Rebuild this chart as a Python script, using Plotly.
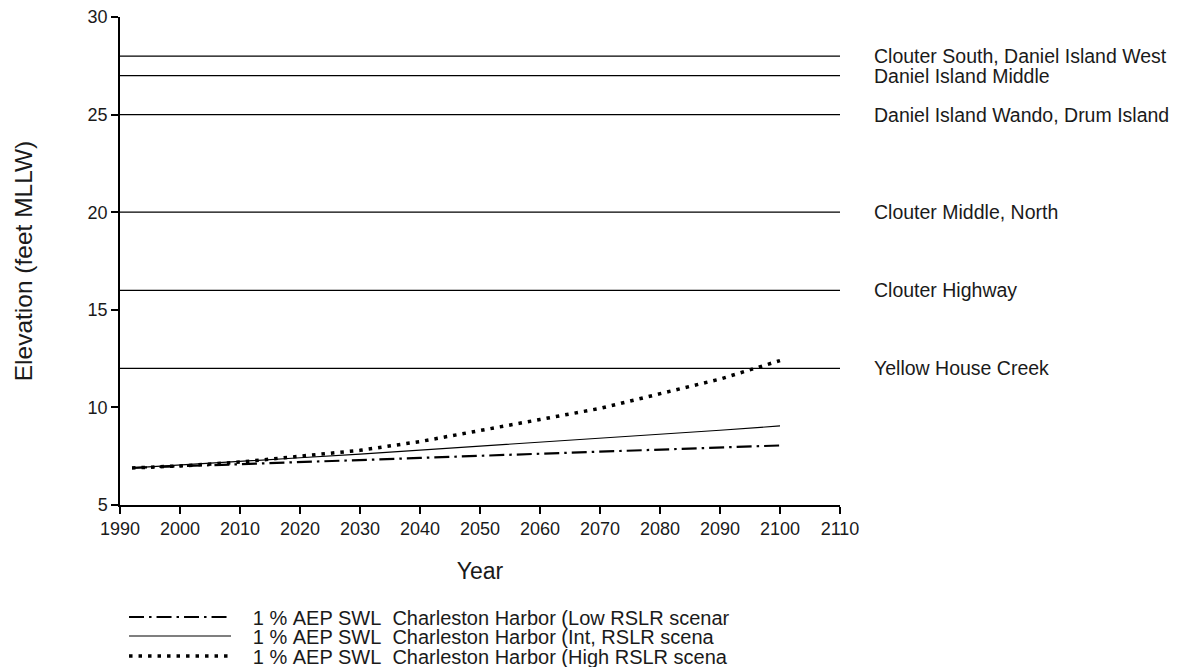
import plotly.graph_objects as go

years = [1992, 2000, 2010, 2020, 2030, 2040, 2050, 2060, 2070, 2080, 2090, 2100]
low = [6.9, 6.98, 7.09, 7.2, 7.3, 7.41, 7.52, 7.62, 7.73, 7.84, 7.94, 8.05]
intm = [6.9, 7.04, 7.23, 7.42, 7.61, 7.81, 8.01, 8.21, 8.42, 8.62, 8.83, 9.05]
high = [6.9, 7.0, 7.2, 7.5, 7.8, 8.25, 8.8, 9.38, 9.95, 10.7, 11.45, 12.4]

levels = [28, 27, 25, 20, 16, 12]
level_names = ["Clouter South, Daniel Island West", "Daniel Island Middle",
               "Daniel Island Wando, Drum Island", "Clouter Middle, North",
               "Clouter Highway", "Yellow House Creek"]

series_names = ["1 %\u00a0AEP SWL\u00a0\u00a0Charleston Harbor (Low RSLR scenar",
                "1 %\u00a0AEP SWL\u00a0\u00a0Charleston Harbor (Int, RSLR scena",
                "1 %\u00a0AEP SWL\u00a0\u00a0Charleston Harbor (High RSLR scena"]

FONT = "Liberation Sans, Arial, sans-serif"
TXT = "#1a1a1a"
PAD = "\u00a0\u00a0\u00a0"

fig = go.Figure()
fig.add_trace(go.Scatter(x=years, y=low, mode="lines", name=PAD + series_names[0], legend="legend",
                         line=dict(color="black", width=2.2, dash="15px,5px,2.5px,5px")))
fig.add_trace(go.Scatter(x=years, y=intm, mode="lines", name=PAD + series_names[1], legend="legend2",
                         line=dict(color="black", width=1.2)))
fig.add_trace(go.Scatter(x=years, y=high, mode="lines", name=PAD + series_names[2], legend="legend3",
                         line=dict(color="black", width=3.5, dash="3.5px,6px")))

for lv, nm in zip(levels, level_names):
    fig.add_shape(type="line", xref="x", yref="y", x0=1990, x1=2110, y0=lv, y1=lv,
                  line=dict(color="black", width=1.2), layer="below")
    fig.add_annotation(x=1.0444, y=lv, xref="paper", yref="y", text=nm, showarrow=False,
                       xanchor="left", yanchor="middle",
                       font=dict(family=FONT, size=19.5, color=TXT))

leg_common = dict(xanchor="left", yanchor="middle", x=0.0056,
                  font=dict(family=FONT, size=20, color=TXT),
                  itemwidth=102, bgcolor="rgba(0,0,0,0)", borderwidth=0)

fig.update_layout(
    width=1170, height=659,
    margin=dict(l=112, r=338, t=9, b=162, autoexpand=False),
    plot_bgcolor="white", paper_bgcolor="white",
    font=dict(family=FONT, size=18, color=TXT),
    showlegend=True,
    legend=dict(y=-0.2295, **leg_common),
    legend2=dict(y=-0.2684, **leg_common),
    legend3=dict(y=-0.3094, **leg_common),
    xaxis=dict(range=[1990, 2110], tickmode="array",
               tickvals=list(range(1990, 2111, 10)), automargin=False,
               ticklabeloverflow="allow",
               showline=True, linecolor="black", linewidth=1.5,
               ticks="outside", ticklen=7, tickcolor="black", tickwidth=1.5,
               showgrid=False, zeroline=False,
               title=dict(text="Year", font=dict(size=23), standoff=25)),
    yaxis=dict(range=[5, 30], tickmode="array", tickvals=[5, 10, 15, 20, 25, 30],
               automargin=False, ticklabeloverflow="allow",
               showline=True, linecolor="black", linewidth=1.5,
               ticks="outside", ticklen=7, tickcolor="black", tickwidth=1.5,
               showgrid=False, zeroline=False,
               title=dict(text="Elevation (feet MLLW)", font=dict(size=24.5), standoff=48)),
)

fig.write_html("out.html")
